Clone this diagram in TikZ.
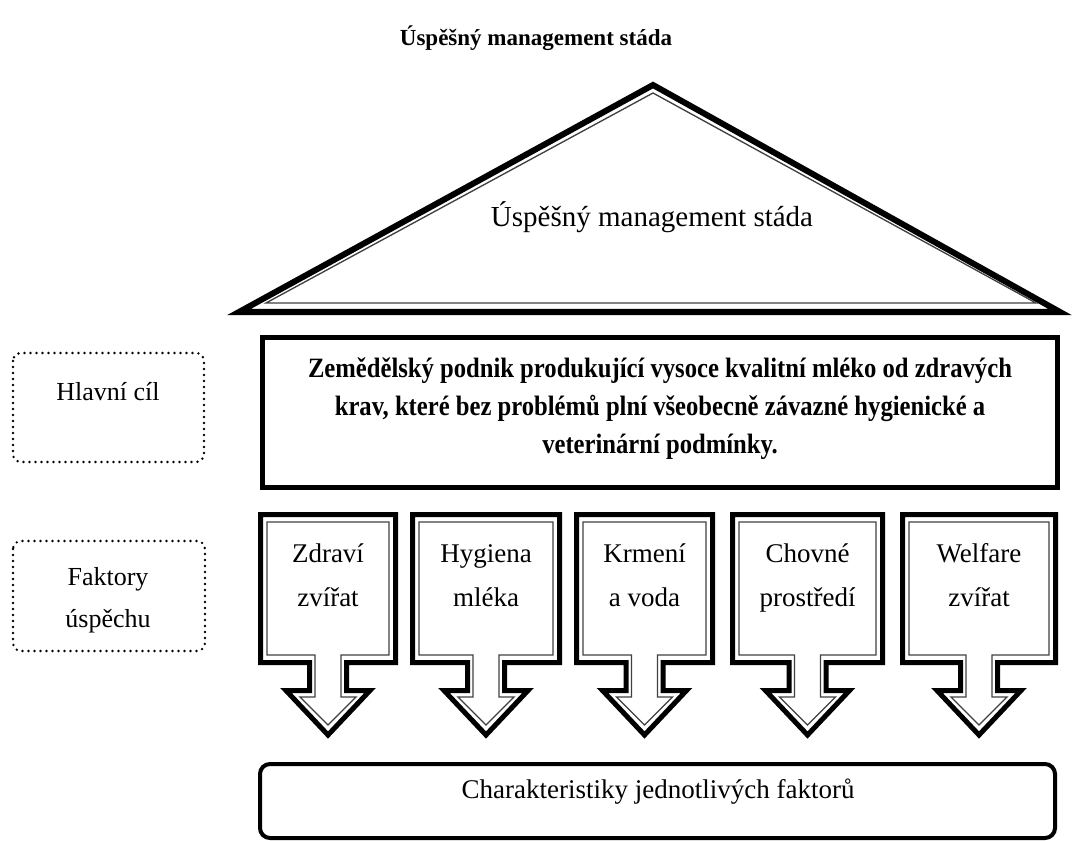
\documentclass[tikz,border=0pt]{standalone}
\usepackage{fontspec}
\setmainfont{Liberation Serif}
\newfontfamily\narrowserif[FakeStretch=0.88]{Liberation Serif}
\usetikzlibrary{positioning}

\begin{document}
\begin{tikzpicture}[x=0.75pt,y=-0.75pt,
    heavy/.style={draw=black, line width=3.75pt, line join=miter},
    fine/.style={draw=black!75, line width=1pt},
    dotbox/.style={draw=black, line width=2pt, dash pattern=on 0pt off 4.5pt, line cap=round, rounded corners=6pt},
    headline/.style={font=\bfseries\fontsize{17.25}{20}\selectfont},
    rooftext/.style={font=\fontsize{21.75}{26}\selectfont},
    goaltext/.style={font=\narrowserif\bfseries\fontsize{21}{28.5}\selectfont, align=center},
    factortext/.style={font=\fontsize{20.25}{33}\selectfont, align=center},
    sidetext/.style={font=\fontsize{19.5}{31.5}\selectfont, align=center}]
  \useasboundingbox (0,0) rectangle (1073,841);

  % Title
  \node[headline] (title) at (536,38) {Úspěšný management stáda};

  % Roof
  \draw[heavy, line width=4.5pt] (239,312) -- (653,85) -- (1060,312) -- cycle;
  \draw[fine] (266,303) -- (653,93) -- (1036,303) -- cycle;
  \node[rooftext] (roof) at (652,217) {Úspěšný management stáda};

  % Main goal
  \draw[heavy] (262.5,337.5) rectangle (1057.5,487.5);
  \node[goaltext] (goal) at (660,409) {Zemědělský podnik produkující vysoce kvalitní mléko od zdravých\\krav, které bez problémů plní všeobecně závazné hygienické a\\veterinární podmínky.};

  % Side labels
  \draw[dotbox] (13,353) rectangle (204,462);
  \node[sidetext, anchor=base] (aim) at (108,400) {Hlavní cíl};
  \draw[dotbox] (13,541) rectangle (205,651);
  \node[sidetext] (factors) at (108,600) {Faktory\\úspěchu};

  % Factor arrows
  \foreach \xl/\xr/\id/\txt in {258/398/health/{Zdraví\\zvířat},
      410/562/hygiene/{Hygiena\\mléka},
      574/715/feed/{Krmení\\a voda},
      730/885/housing/{Chovné\\prostředí},
      900/1058/welfare/{Welfare\\zvířat}}{
    \pgfmathsetmacro\cx{(\xl+\xr)/2}
    \draw[heavy] (\xl+2.5,514.5) -- (\xr-2.5,514.5) -- (\xr-2.5,662.5)
      -- (\cx+18.5,662.5) -- (\cx+18.5,690.5) -- (\cx+42,690.5) -- (\cx,735)
      -- (\cx-42,690.5) -- (\cx-18.5,690.5) -- (\cx-18.5,662.5) -- (\xl+2.5,662.5) -- cycle;
    \draw[fine] (\xl+9,522) -- (\xr-9,522) -- (\xr-9,655)
      -- (\cx+13,655) -- (\cx+13,697) -- (\cx+28,697) -- (\cx,725)
      -- (\cx-28,697) -- (\cx-13,697) -- (\cx-13,655) -- (\xl+9,655) -- cycle;
    \node[factortext, text height=47.25pt, text depth=4.5pt] (\id) at (\cx,578) {\txt};
  }

  % Characteristics
  \draw[line width=3pt, rounded corners=7.5pt] (260,764) rectangle (1055,838);
  \node[factortext, anchor=base] (traits) at (658,798) {Charakteristiky jednotlivých faktorů};
\end{tikzpicture}
\end{document}
